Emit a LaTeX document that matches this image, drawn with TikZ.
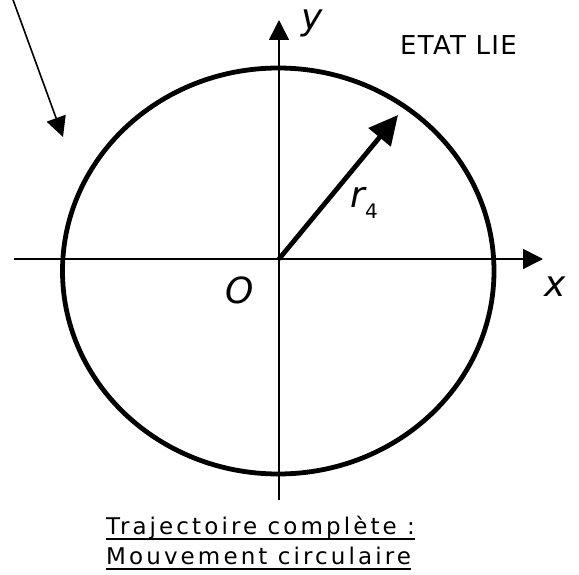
\documentclass[tikz,border=0pt]{standalone}
\usepackage{fontspec}
\setmainfont{DejaVu Sans}
\usetikzlibrary{arrows.meta}
\newsavebox{\legbox}
\newcommand{\legende}[1]{\sbox{\legbox}{\addfontfeature{LetterSpace=13.5}#1}%
  \rlap{\usebox{\legbox}}\rule[-5.6pt]{\wd\legbox}{1.6pt}}

\begin{document}
\begin{tikzpicture}[
  x=1pt, y=-1pt,
  lbl/.style={font=\fontsize{36}{36}\selectfont\itshape, inner sep=0pt, anchor=base},
  txt/.style={font=\fontsize{23}{23}\selectfont, inner sep=0pt, anchor=base west},
  axe/.style={line width=1.6pt, -{Triangle[length=20pt,width=20pt]}},
  fl/.style={line width=1.6pt, -{Triangle[length=20pt,width=20pt]}}
]
\useasboundingbox (0,0) rectangle (579,575);
\coordinate (O) at (279,259);
\coordinate (xg) at (14,259);
\coordinate (xd) at (543,259);
\coordinate (yb) at (279,500);
\coordinate (yh) at (279,20);
\coordinate (rt) at (398,115);
\coordinate (p0) at (12,-3);
\coordinate (p1) at (63,137);
\draw[line width=4.8pt] (278.25,271) ellipse [x radius=215.75, y radius=203];
\draw[axe] (xg) -- (xd);
\draw[axe] (yb) -- (yh);
\draw[line width=4.8pt, -{Triangle[length=29pt,width=28pt]}] (O) -- (rt);
\draw[fl] (p0) -- (p1);
\node[lbl] (ny) at (312,30) {y};
\node[lbl] (nx) at (555,297) {x};
\node[lbl] (nO) at (240,303) {O};
\node[lbl, anchor=base west] (nr) at (350,208)
  {r\raisebox{-10pt}{\fontsize{20}{20}\selectfont\upshape 4}};
\node[font=\fontsize{26}{26}\selectfont\addfontfeature{LetterSpace=5}, inner sep=0pt, anchor=base] (etat) at (458.5,55) {ETAT LIE};
\node[txt] (t1) at (106,534) {\legende{Trajectoire complète :}};
\node[txt] (t2) at (106,564) {\legende{Mouvement circulaire}};
\end{tikzpicture}
\end{document}
